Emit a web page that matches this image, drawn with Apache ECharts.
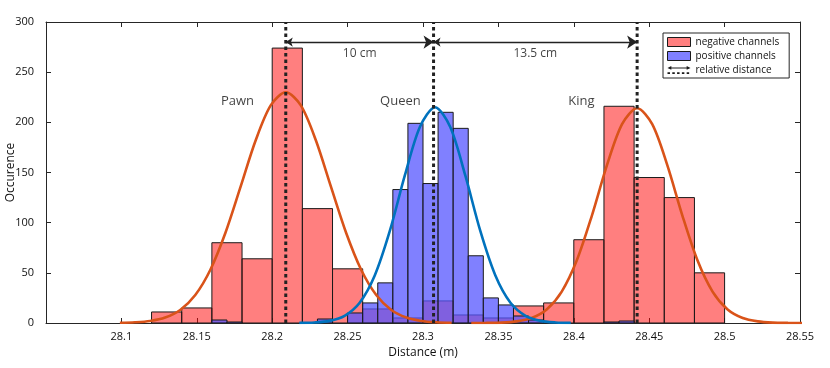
<!DOCTYPE html>
<html>
<head>
<meta charset="utf-8">
<script src="https://cdn.jsdelivr.net/npm/echarts@6/dist/echarts.min.js"></script>
<style>html,body{margin:0;padding:0;background:#fff}#c{width:830px;height:368px}</style>
</head>
<body>
<div id="c"></div>
<script>
// ---------- data ----------
const xTickMin = 28.05, xTickMax = 28.55, xTickStep = 0.05;
const yTickMin = 0, yTickMax = 300, yTickStep = 50;

const redBinWidth = 0.02;
const redBinStart = [28.12, 28.14, 28.16, 28.18, 28.20, 28.22, 28.24, 28.26, 28.28, 28.30, 28.32, 28.34, 28.36, 28.38, 28.40, 28.42, 28.44, 28.46, 28.48];
const redCounts   = [11,    15,    80,    64,    274,   114,   54,    14,    5,     22,    8,     5,     17,    20,    83,    216,   145,   125,   50];

const blueBinWidth = 0.01;
const blueBinStart = [28.16, 28.17, 28.23, 28.25, 28.26, 28.27, 28.28, 28.29, 28.30, 28.31, 28.32, 28.33, 28.34, 28.35, 28.36, 28.37, 28.42, 28.43];
const blueCounts   = [3,     1,     4,     10,    20,    40,    133,   199,   139,   210,   194,   67,    25,    18,    7,     3,     1,     2];

const pawnFitX = [28.099, 28.109, 28.119, 28.129, 28.139, 28.149, 28.159, 28.169, 28.179, 28.189, 28.199, 28.209, 28.219, 28.229, 28.239, 28.249, 28.259, 28.269, 28.279, 28.289, 28.299, 28.309, 28.319];
const pawnFitY = [0.2, 0.7, 2.0, 5.4, 13.0, 27.9, 53.1, 90.0, 135.7, 181.9, 216.9, 230, 216.9, 181.9, 135.7, 90.0, 53.1, 27.9, 13.0, 5.4, 2.0, 0.7, 0.2];

const queenFitX = [28.218, 28.228, 28.238, 28.248, 28.258, 28.268, 28.278, 28.288, 28.298, 28.308, 28.318, 28.328, 28.338, 28.348, 28.358, 28.368, 28.378, 28.388, 28.398];
const queenFitY = [0.1, 0.5, 2.1, 7.2, 20.2, 47.4, 91.8, 147.3, 195.6, 215, 195.6, 147.3, 91.8, 47.4, 20.2, 7.2, 2.1, 0.5, 0.1];

const kingFitX = [28.332, 28.342, 28.352, 28.362, 28.372, 28.382, 28.392, 28.402, 28.412, 28.422, 28.432, 28.442, 28.452, 28.462, 28.472, 28.482, 28.492, 28.502, 28.512, 28.522, 28.532, 28.542, 28.552];
const kingFitY = [0.02, 0.1, 0.4, 1.6, 4.9, 13.4, 31.3, 62.5, 107.1, 157.3, 198.2, 214, 198.2, 157.3, 107.1, 62.5, 31.3, 13.4, 4.9, 1.6, 0.4, 0.1, 0.02];

const markerX = [28.209, 28.307, 28.442];
const markerYRange = [0, 300];
const arrowY = 280;
const distLabels = ['10 cm', '13.5 cm'];
const distLabelY = 269;

const pieceNames = ['Pawn', 'Queen', 'King'];
const pieceLabelX = [28.177, 28.285, 28.405];
const pieceLabelY = 221;

const seriesNames = ['negative channels', 'positive channels', 'relative distance'];
const xAxisTitle = 'Distance (m)';
const yAxisTitle = 'Occurence';

// ---------- chart ----------
const FONT = 'Open Sans';
const AX = '#262626';
const TXT = '#111';
const RED = 'rgba(255,0,0,0.5)';
const BLUE = 'rgba(85,85,255,0.75)';
const chart = echarts.init(document.getElementById('c'), null, {renderer: 'canvas'});

function barRender(fill) {
  return function (params, api) {
    const x0 = api.value(0), x1 = api.value(1), h = api.value(2);
    const p0 = api.coord([x0, 0]);
    const p1 = api.coord([x1, h]);
    return {
      type: 'rect',
      shape: {x: p0[0], y: p1[1], width: p1[0] - p0[0], height: p0[1] - p1[1]},
      style: {fill: fill, stroke: '#1a1a1a', lineWidth: 1}
    };
  };
}

const redData = redBinStart.map((s, i) => [s, s + redBinWidth, redCounts[i]]);
const blueData = blueBinStart.map((s, i) => [s, s + blueBinWidth, blueCounts[i]]);
const zip = (xs, ys) => xs.map((x, i) => [x, ys[i]]);

const series = [
  {
    name: seriesNames[0], type: 'custom', renderItem: barRender(RED),
    data: redData, encode: {x: [0, 1], y: 2}, z: 1, clip: true,
    itemStyle: {color: RED}
  },
  {
    name: seriesNames[1], type: 'custom', renderItem: barRender(BLUE),
    data: blueData, encode: {x: [0, 1], y: 2}, z: 2, clip: true,
    itemStyle: {color: BLUE}
  },
  {type: 'line', data: zip(pawnFitX, pawnFitY), smooth: 0.3, symbol: 'none', z: 3,
   lineStyle: {color: '#D95319', width: 2.6}},
  {type: 'line', data: zip(kingFitX, kingFitY), smooth: 0.3, symbol: 'none', z: 3,
   lineStyle: {color: '#D95319', width: 2.6}},
  {type: 'line', data: zip(queenFitX, queenFitY), smooth: 0.3, symbol: 'none', z: 3,
   lineStyle: {color: '#0072BD', width: 2.6}}
];

markerX.forEach(x => {
  series.push({type: 'line', data: [[x, markerYRange[0]], [x, markerYRange[1]]], symbol: 'none', z: 4,
    lineStyle: {color: '#222', width: 3, type: [3.5, 3]}, silent: true});
});

series.push({
  name: seriesNames[2], type: 'lines', coordinateSystem: 'cartesian2d', z: 5,
  symbol: ['arrow', 'arrow'], symbolSize: [7, 10],
  lineStyle: {color: '#222', width: 1.4, opacity: 1},
  itemStyle: {color: '#222'},
  data: markerX.slice(0, -1).map((x, i) => ({coords: [[x, arrowY], [markerX[i + 1], arrowY]]}))
});

series.push({
  type: 'scatter', symbolSize: 0, z: 6, silent: true,
  data: distLabels.map((t, i) => ({name: t, value: [(markerX[i] + markerX[i + 1]) / 2, distLabelY]})),
  label: {show: true, position: 'inside', formatter: '{b}', color: TXT, fontFamily: FONT, fontSize: 12}
});
series.push({
  type: 'scatter', symbolSize: 0, z: 6, silent: true,
  data: pieceNames.map((t, i) => ({name: t, value: [pieceLabelX[i], pieceLabelY]})),
  label: {show: true, position: 'inside', formatter: '{b}', color: TXT, fontFamily: FONT, fontSize: 13}
});

const fmtX = v => (Math.abs(v - xTickMin) < 1e-6) ? '' : String(+v.toFixed(2));

const baseAxis = {
  axisLine: {show: true, onZero: false, lineStyle: {color: AX, width: 1}},
  axisTick: {show: true, inside: true, length: 5, lineStyle: {color: AX}},
  splitLine: {show: false}
};

const option = {
  animation: false,
  backgroundColor: '#fff',
  grid: {left: 46, right: 30, top: 22, bottom: 45, containLabel: false, outerBoundsMode: 'none'},
  legend: {
    orient: 'vertical', left: 663, top: 33,
    backgroundColor: '#fff', borderColor: AX, borderWidth: 1,
    padding: [4, 10, 3, 4], itemGap: 4, itemWidth: 23, itemHeight: 9, itemTextGap: 8,
    textStyle: {fontFamily: FONT, fontSize: 10, color: TXT},
    data: [
      {name: seriesNames[0], icon: 'rect', itemStyle: {color: RED, borderColor: '#1a1a1a', borderWidth: 1}},
      {name: seriesNames[1], icon: 'rect', itemStyle: {color: BLUE, borderColor: '#1a1a1a', borderWidth: 1}},
      {name: seriesNames[2], icon: 'path://M0,2.5L4,0.5L4,2L20,2L20,0.5L24,2.5L20,4.5L20,3L4,3L4,4.5Z M0,7h2.6v1.8h-2.6Z M5,7h2.6v1.8h-2.6Z M10,7h2.6v1.8h-2.6Z M15,7h2.6v1.8h-2.6Z M20,7h2.6v1.8h-2.6Z',
       itemStyle: {color: '#1a1a1a', borderWidth: 0}}
    ]
  },
  xAxis: [
    Object.assign({}, baseAxis, {
      type: 'value', position: 'bottom', min: xTickMin, max: xTickMax, interval: xTickStep,
      name: xAxisTitle, nameLocation: 'middle', nameGap: 24, nameMoveOverlap: false,
      nameTextStyle: {fontFamily: FONT, fontSize: 12, color: TXT},
      axisLabel: {formatter: fmtX, fontFamily: FONT, fontSize: 11, color: TXT, margin: 8, showMaxLabel: true}
    }),
    Object.assign({}, baseAxis, {
      type: 'value', position: 'top', min: xTickMin, max: xTickMax, interval: xTickStep,
      axisLabel: {show: false}
    })
  ],
  yAxis: [
    Object.assign({}, baseAxis, {
      type: 'value', position: 'left', min: yTickMin, max: yTickMax, interval: yTickStep,
      name: yAxisTitle, nameLocation: 'middle', nameGap: 29, nameRotate: 90, nameMoveOverlap: false,
      nameTextStyle: {fontFamily: FONT, fontSize: 12, color: TXT},
      axisLabel: {fontFamily: FONT, fontSize: 11, color: TXT, margin: 12}
    }),
    Object.assign({}, baseAxis, {
      type: 'value', position: 'right', min: yTickMin, max: yTickMax, interval: yTickStep,
      axisLabel: {show: false}
    })
  ],
  series: series
};

chart.setOption(option);
</script>
</body>
</html>
